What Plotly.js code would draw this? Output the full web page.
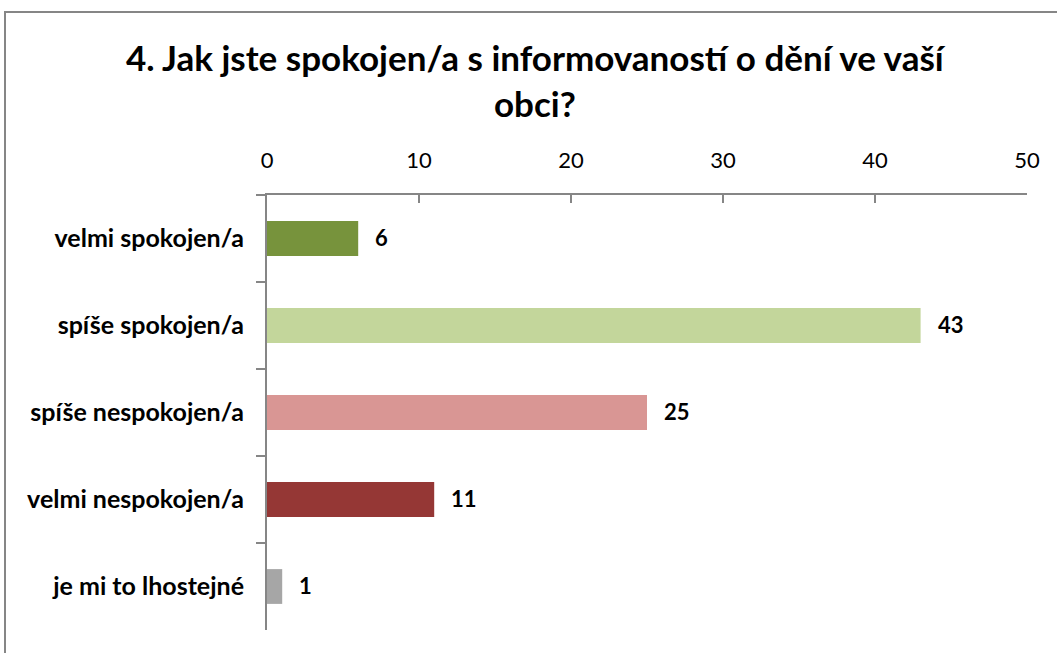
<!DOCTYPE html>
<html>
<head>
<meta charset="utf-8">
<script src="https://cdn.plot.ly/plotly-3.0.1.min.js"></script>
<style>html,body{margin:0;padding:0;background:#fff;}#chart{width:1057px;height:653px;}</style>
</head>
<body>
<div id="chart"></div>
<script>
const categories = ["velmi spokojen/a", "spíše spokojen/a", "spíše nespokojen/a", "velmi nespokojen/a", "je mi to lhostejné"];
const values = [6, 43, 25, 11, 1];
const barColors = ["#77933C", "#C3D69B", "#D99694", "#953735", "#A6A6A6"];
const tickValues = [0, 10, 20, 30, 40, 50];
const titleText = "4. Jak jste spokojen/a s informovaností o dění ve vaší<br>obci?";

const FONT = "Lato, 'Open Sans', sans-serif";
const W = 1057, H = 653;
const L = 267, R = 30, T = 195, B = 23;
const pw = W - L - R, ph = H - T - B;

const trace = {
  type: "bar",
  orientation: "h",
  y: categories,
  x: values,
  marker: {color: barColors},
  width: 0.4,
  hoverinfo: "x+y"
};

const labelAnnotations = values.map((v, i) => ({
  x: v, y: categories[i], xref: "x", yref: "y",
  text: String(v), showarrow: false,
  xanchor: "left", yanchor: "middle", xshift: 15, yshift: 1,
  font: {family: FONT, size: 22, color: "#000", weight: "bold"}
}));

const layout = {
  width: W, height: H,
  margin: {l: L, r: R, t: T, b: B},
  paper_bgcolor: "#fff",
  plot_bgcolor: "#fff",
  showlegend: false,
  title: {
    text: titleText,
    font: {family: FONT, size: 35, color: "#000", weight: "bold"},
    x: 0.506, xanchor: "center",
    y: 0.891, yanchor: "middle"
  },
  xaxis: {
    side: "top",
    range: [0, 50],
    tickvals: tickValues,
    ticktext: tickValues.map(String),
    showgrid: false,
    zeroline: false,
    showline: true,
    linecolor: "#868686",
    linewidth: 2,
    ticks: "inside",
    ticklen: 8,
    tickwidth: 1.5,
    tickcolor: "#868686",
    tickfont: {family: FONT, size: 22, color: "#000"},
    ticklabelstandoff: 16,
    fixedrange: true
  },
  yaxis: {
    autorange: "reversed",
    type: "category",
    showgrid: false,
    zeroline: false,
    showline: true,
    linecolor: "#868686",
    linewidth: 2,
    ticks: "outside",
    tickson: "boundaries",
    ticklen: 9,
    tickwidth: 1.5,
    tickcolor: "#868686",
    tickfont: {family: FONT, size: 25, color: "#000", weight: "bold"},
    ticklabelstandoff: 16,
    fixedrange: true
  },
  annotations: labelAnnotations,
  shapes: [{
    type: "rect", xref: "paper", yref: "paper",
    x0: (5 - L) / pw, x1: (W + 20 - L) / pw,
    y0: -(H + 20 - T - ph) / ph, y1: 1 + (T - 12) / ph,
    line: {color: "#868686", width: 2},
    fillcolor: "rgba(0,0,0,0)",
    layer: "below"
  }]
};

Plotly.newPlot("chart", [trace], layout, {displayModeBar: false, staticPlot: true});
</script>
</body>
</html>
